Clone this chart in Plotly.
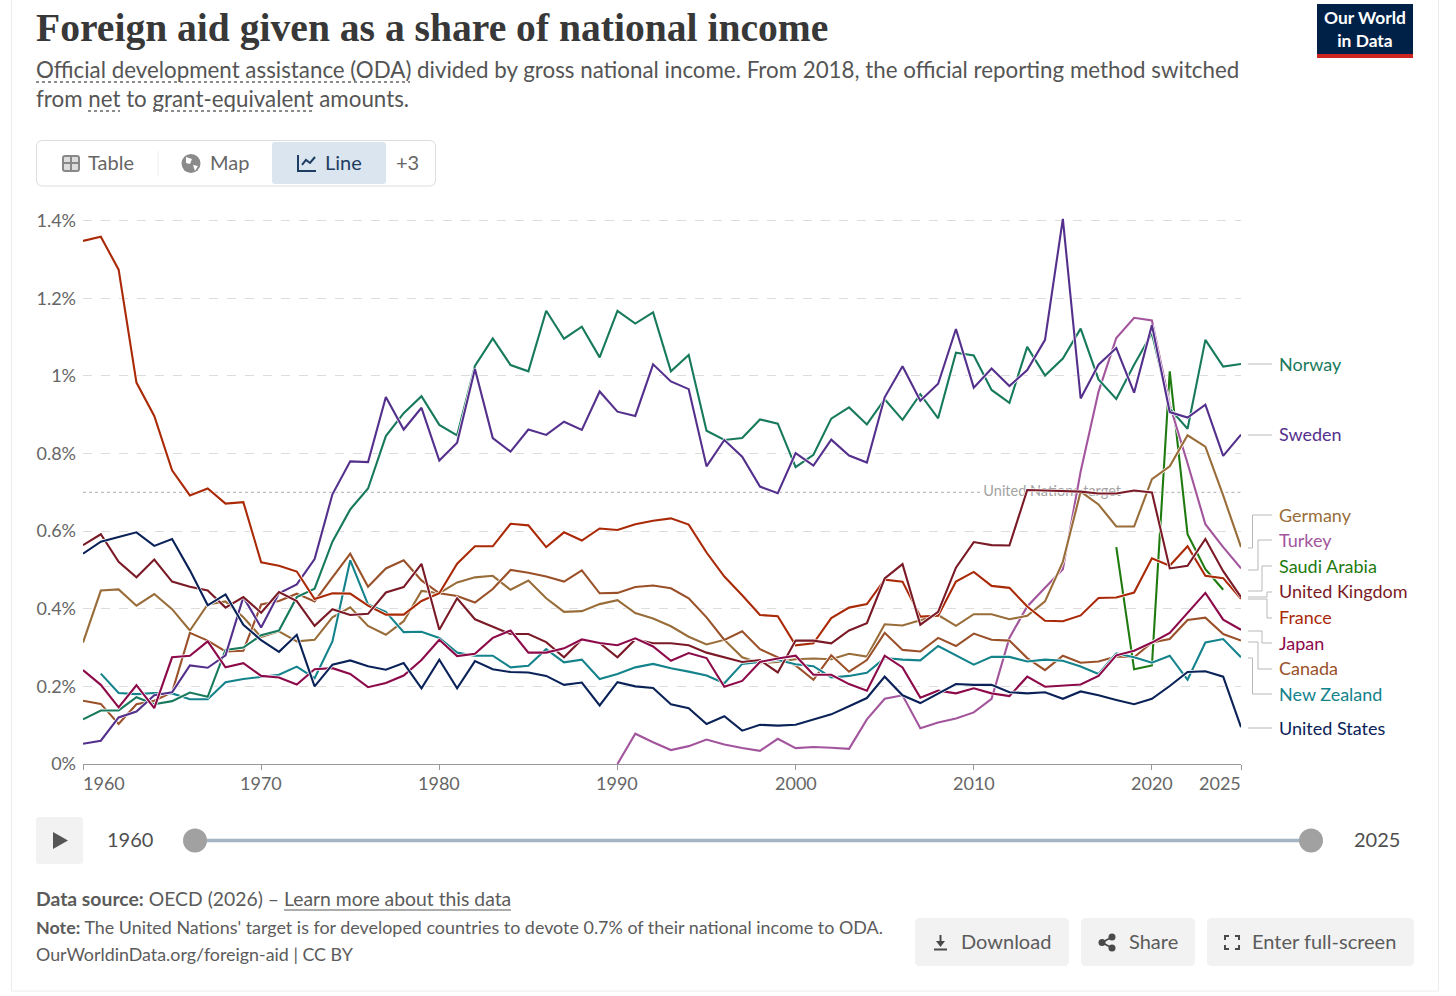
import plotly.graph_objects as go

W = 1456
H = 996

years = list(range(1960, 2026))

france = [1.348, 1.359, 1.274, .983, .897, .757, .692, .71, .671, .675,
          .52, .511, .496, .425, .44, .439, .408, .385, .385, .42,
          .44, .516, .561, .561, .619, .615, .559, .597, .576, .607,
          .603, .618, .627, .633, .617, .545, .483, .435, .384, .381,
          .306, .311, .376, .403, .412, .475, .47, .38, .382, .47,
          .495, .459, .454, .406, .369, .368, .383, .428, .429, .442,
          .53, .511, .561, .485, .479, .426]
norway = [.115, .138, .138, .172, .154, .162, .184, .173, .294, .30,
          .332, .344, .43, .452, .573, .656, .71, .845, .904, .948,
          .874, .847, 1.026, 1.097, 1.028, 1.012, 1.168, 1.096, 1.127, 1.048,
          1.168, 1.135, 1.164, 1.012, 1.054, .859, .835, .84, .888, .877,
          .765, .797, .89, .919, .875, .94, .887, .953, .891, 1.06,
          1.053, .964, .931, 1.075, 1.001, 1.045, 1.122, .991, .941, 1.029,
          1.11, .916, .864, 1.093, 1.024, 1.031]
sweden = [.052, .06, .12, .135, .177, .185, .254, .248, .28, .43,
          .352, .44, .463, .528, .695, .78, .778, .946, .862, .918,
          .782, .828, 1.018, .84, .805, .862, .848, .882, .861, .96,
          .908, .897, 1.03, .986, .966, .767, .835, .792, .715, .698,
          .801, .769, .836, .795, .777, .945, 1.025, .936, .98, 1.121,
          .97, 1.019, .974, 1.015, 1.093, 1.405, .942, 1.029, 1.072, .957,
          1.131, .907, .893, .926, .794, .849]
germany = [.313, .447, .45, .408, .438, .399, .344, .411, .419, .378,
           .327, .342, .316, .32, .378, .404, .356, .333, .368, .446,
           .44, .468, .481, .485, .449, .473, .427, .392, .394, .412,
           .422, .389, .375, .355, .328, .308, .32, .275, .26, .263,
           .27, .272, .27, .284, .277, .36, .357, .37, .384, .356,
           .386, .386, .373, .382, .419, .521, .702, .669, .612, .612,
           .734, .767, .847, .818, .692, .559]
canada = [.163, .155, .103, .154, .163, .185, .338, .318, .29, .292,
          .411, .42, .439, .419, .481, .542, .457, .504, .525, .473,
          .44, .433, .416, .451, .5, .493, .483, .47, .499, .44,
          .441, .456, .46, .453, .427, .378, .32, .342, .296, .276,
          .254, .217, .28, .238, .268, .338, .294, .29, .325, .304,
          .336, .32, .318, .273, .242, .279, .261, .264, .277, .275,
          .313, .322, .371, .377, .335, .318]
turkey = [None] * 30 + [0, .078, .056, .036, .046, .063, .05, .041, .034, .065,
                        .041, .044, .042, .039, .115, .168, .177, .092, .107, .117,
                        .133, .168, .325, .406, .454, .502, .754, .959, 1.098, 1.15,
                        1.143, .926, .775, .618, .559, .504]
saudi = [None] * 58 + [.559, .244, .254, 1.012, .592, .502, .449, None]
uk = [.564, .592, .521, .481, .527, .47, .457, .447, .403, .43,
      .39, .443, .42, .356, .399, .384, .387, .442, .456, .516,
      .346, .427, .373, .354, .335, .335, .314, .275, .321, .312,
      .275, .321, .311, .311, .306, .287, .275, .263, .268, .236,
      .318, .318, .311, .344, .363, .478, .515, .359, .392, .506,
      .572, .564, .563, .706, .705, .704, .702, .697, .697, .705,
      .7, .504, .511, .58, .497, .43]
japan = [.242, .204, .146, .203, .144, .275, .279, .316, .249, .26,
         .227, .223, .205, .244, .247, .232, .198, .209, .228, .268,
         .32, .278, .284, .325, .344, .287, .287, .298, .321, .312,
         .306, .324, .303, .266, .286, .273, .199, .214, .263, .272,
         .279, .23, .23, .206, .189, .279, .249, .171, .189, .182,
         .195, .182, .175, .225, .199, .202, .205, .227, .28, .292,
         .313, .338, .389, .441, .372, .346]
new_zealand = [None, .233, .183, .18, .183, .182, .167, .167, .211, .219,
               .225, .23, .251, .221, .316, .525, .411, .392, .34, .341,
               .325, .287, .279, .279, .249, .253, .296, .262, .269, .219,
               .232, .249, .258, .247, .238, .228, .208, .258, .263, .268,
               .257, .252, .223, .227, .235, .273, .269, .267, .304, .28,
               .256, .276, .276, .264, .269, .266, .251, .232, .285, .275,
               .261, .279, .217, .313, .322, .275]
united_states = [.542, .573, .585, .597, .562, .58, .499, .409, .437, .359,
                 .319, .289, .333, .2, .256, .267, .252, .243, .26, .195,
                 .269, .195, .265, .244, .237, .236, .227, .204, .21, .151,
                 .211, .2, .196, .154, .144, .103, .123, .086, .101, .099,
                 .101, .114, .128, .149, .17, .225, .177, .157, .182, .206,
                 .204, .204, .185, .182, .185, .168, .187, .177, .165, .154,
                 .168, .201, .237, .239, .225, .095]

# draw order: later ones sit on top
series = [
    ("Saudi Arabia", saudi, "#1f7a0f"),
    ("Turkey", turkey, "#a2559c"),
    ("Germany", germany, "#996d39"),
    ("Canada", canada, "#9a5129"),
    ("New Zealand", new_zealand, "#14838c"),
    ("Norway", norway, "#187a5c"),
    ("Sweden", sweden, "#54308c"),
    ("France", france, "#aa2a08"),
    ("United Kingdom", uk, "#7a1a26"),
    ("Japan", japan, "#8c0a4a"),
    ("United States", united_states, "#0a2258"),
]

yticks = [0, .2, .4, .6, .8, 1, 1.2, 1.4]
yticklabels = ["0%", "0.2%", "0.4%", "0.6%", "0.8%", "1%", "1.2%", "1.4%"]
xticks = [1960, 1970, 1980, 1990, 2000, 2010, 2020, 2025]

# label, colour, label y, then the connector: start y, end y, elbow x
end_labels = [
    ("Norway", "#187a5c", 365, 364, 364, None),
    ("Sweden", "#54308c", 435, 435, 435, None),
    ("Germany", "#996d39", 516, 548, 515, 1252.5),
    ("Turkey", "#a2559c", 541, 570, 540, 1258),
    ("Saudi Arabia", "#1f7a0f", 567, 591, 566, 1262),
    ("United Kingdom", "#7a1a26", 592, 597, 592, 1267),
    ("France", "#aa2a08", 618, 599, 618, 1267),
    ("Japan", "#8c0a4a", 644, 631, 643, 1262),
    ("Canada", "#9a5129", 669, 642, 669, 1258),
    ("New Zealand", "#14838c", 695, 658, 694, 1252.5),
    ("United States", "#0a2258", 729, 728, 728, None),
]


def px(x):
    return x / W


def py(y):
    return 1 - y / H


def pt(x, y):
    return f"{px(x):.5f},{py(y):.5f}"


def line(x0, y0, x1, y1, color="#bbbbbb", width=1, dash="solid"):
    return dict(type="line", xref="paper", yref="paper", x0=px(x0), y0=py(y0), x1=px(x1), y1=py(y1),
                line=dict(color=color, width=width, dash=dash))


def path(d, fill="rgba(0,0,0,0)", color="rgba(0,0,0,0)", width=0):
    return dict(type="path", xref="paper", yref="paper", path=d, fillcolor=fill,
                line=dict(color=color, width=width))


def rrect(x0, y0, x1, y1, r, fill, color="rgba(0,0,0,0)", width=0):
    d = (f"M{pt(x0 + r, y0)} L{pt(x1 - r, y0)} Q{pt(x1, y0)} {pt(x1, y0 + r)} "
         f"L{pt(x1, y1 - r)} Q{pt(x1, y1)} {pt(x1 - r, y1)} L{pt(x0 + r, y1)} "
         f"Q{pt(x0, y1)} {pt(x0, y1 - r)} L{pt(x0, y0 + r)} Q{pt(x0, y0)} {pt(x0 + r, y0)} Z")
    return path(d, fill, color, width)


def circle(cx, cy, r, fill, color="rgba(0,0,0,0)", width=0):
    return dict(type="circle", xref="paper", yref="paper", x0=px(cx - r), x1=px(cx + r),
                y0=py(cy + r), y1=py(cy - r), fillcolor=fill, line=dict(color=color, width=width))


def text(x, y, s, size=18, color="#5b5b5b", anchor="left", font="Lato"):
    # Lato sits a little low in its box
    if font == "Lato":
        y -= 1.3
    return dict(xref="paper", yref="paper", x=px(x), y=py(y), text=s, showarrow=False, xanchor=anchor,
                yanchor="middle", align="center" if anchor == "center" else "left",
                font=dict(family=font, size=size, color=color), borderpad=0, borderwidth=0)


fig = go.Figure()

# UN target label goes first so the lines run over it
fig.add_trace(go.Scatter(x=[2014.4], y=[.7], mode="text", text=["United Nations target"],
                         textfont=dict(family="Lato", size=14.5, color="#a3a3a3"),
                         hoverinfo="skip", showlegend=False))

for name, values, color in series:
    fig.add_trace(go.Scatter(x=years, y=values, mode="lines", line=dict(color="white", width=3.4),
                             hoverinfo="skip", showlegend=False))
    fig.add_trace(go.Scatter(x=years, y=values, mode="lines", name=name, line=dict(color=color, width=2.1),
                             showlegend=False))

shapes = []
annotations = []

# target line, broken around its label
shapes.append(dict(type="line", xref="x", yref="y", x0=1960, x1=2010.4, y0=.7, y1=.7, layer="below",
                   line=dict(color="#bdbdbd", width=1.2, dash="dot")))
shapes.append(dict(type="line", xref="x", yref="y", x0=2018.4, x1=2025, y0=.7, y1=.7, layer="below",
                   line=dict(color="#bdbdbd", width=1.2, dash="dot")))

# card outline
shapes.append(line(11.5, 0, 11.5, 991, "#ececec"))
shapes.append(line(1438.5, 0, 1438.5, 991, "#ececec"))
shapes.append(line(11.5, 991, 1438.5, 991, "#ececec"))

# header
annotations.append(text(36, 28, "<b>Foreign aid given as a share of national income</b>", 39.6, "#383838",
                        font="Liberation Serif"))
annotations.append(text(36, 71, "Official development assistance (ODA) divided by gross national income. "
                                "From 2018, the official reporting method switched", 22.33, "#555555"))
annotations.append(text(36, 100, "from net to grant-equivalent amounts.", 22.33, "#555555"))
shapes.append(line(36, 82, 410, 82, "#666666", 1.5, "dot"))
shapes.append(line(88, 111, 120, 111, "#666666", 1.5, "dot"))
shapes.append(line(153, 111, 313, 111, "#666666", 1.5, "dot"))

# logo
shapes.append(dict(type="rect", xref="paper", yref="paper", x0=px(1317), x1=px(1413), y0=py(58), y1=py(4),
                   fillcolor="#002147", line_width=0))
shapes.append(dict(type="rect", xref="paper", yref="paper", x0=px(1317), x1=px(1413), y0=py(58), y1=py(54),
                   fillcolor="#ce261e", line_width=0))
annotations.append(text(1365, 30.5, "<b>Our World<br>in Data</b>", 17.4, "white", "center"))

# tab bar
shapes.append(rrect(36.5, 140.5, 435.5, 186, 6, "white", "#dddddd", 1))
shapes.append(rrect(272, 142, 386, 184, 3, "#dbe5f0"))
shapes.append(line(158, 151, 158, 176, "#eeeeee"))
annotations.append(text(88, 163.5, "Table", 20, "#666666"))
annotations.append(text(210, 163.5, "Map", 20, "#666666"))
annotations.append(text(325, 163.5, "Line", 20, "#1d3d63"))
annotations.append(text(396, 163.5, "+3", 20, "#666666"))
# tab icons
shapes.append(rrect(63, 156, 79, 171, 2, "#dddddd", "#888888", 2))
shapes.append(line(63, 163, 79, 163, "#888888", 2))
shapes.append(line(71, 156, 71, 171, "#888888", 2))
shapes.append(circle(191, 163.5, 9.5, "#8a8a8a"))
shapes.append(path(f"M{pt(186, 157)} L{pt(192, 159)} L{pt(190, 164)} L{pt(186, 163)} Z", "white"))
shapes.append(path(f"M{pt(193, 165)} L{pt(198, 166)} L{pt(195, 171)} Z", "white"))
shapes.append(path(f"M{pt(298, 155)} L{pt(298, 171)} L{pt(316, 171)}", color="#1d3d63", width=2))
shapes.append(path(f"M{pt(302, 165)} L{pt(306, 160)} L{pt(310, 163)} L{pt(315, 157)}", color="#1d3d63", width=2))

# axis labels on the x axis, the outer two are pulled inside
for yr in xticks:
    anchor = "left" if yr == 1960 else "right" if yr == 2025 else "center"
    shift = -2 if yr == 1960 else 2 if yr == 2025 else 0
    annotations.append(dict(xref="x", yref="paper", x=yr, y=py(783), text=str(yr), showarrow=False, xshift=shift,
                            xanchor=anchor, yanchor="middle", font=dict(family="Lato", size=18, color="#666666")))

# end labels and connectors
for name, color, y_label, y_start, y_end, elbow in end_labels:
    annotations.append(text(1279, y_label, name, 18, color))
    if elbow is None:
        shapes.append(line(1248, y_start, 1272, y_end, "#b8b8b8"))
    else:
        shapes.append(path(f"M{pt(1248, y_start)} L{pt(elbow, y_start)} L{pt(elbow, y_end)} L{pt(1272, y_end)}",
                           color="#b8b8b8", width=1))

# timeline
shapes.append(rrect(36, 817, 83, 864, 3, "#f2f2f2"))
shapes.append(path(f"M{pt(53, 832)} L{pt(68, 840.5)} L{pt(53, 849)} Z", "#555555"))
annotations.append(text(130, 840, "1960", 20, "#4f4f4f", "center"))
annotations.append(text(1377, 840, "2025", 20, "#4f4f4f", "center"))
shapes.append(line(205, 840.5, 1300, 840.5, "#a4b5c3", 3.5))
shapes.append(circle(195, 840.5, 12, "#a1a1a1"))
shapes.append(circle(1311, 840.5, 12, "#a1a1a1"))

# footer
annotations.append(text(36, 900, "<b>Data source:</b> OECD (2026) – Learn more about this data", 19.35, "#5b5b5b"))
shapes.append(line(284, 910, 511, 910, "#5b5b5b", 1))
annotations.append(text(36, 928, "<b>Note:</b> The United Nations' target is for developed countries to devote "
                                 "0.7% of their national income to ODA.", 17.9, "#5b5b5b"))
annotations.append(text(36, 955, "OurWorldinData.org/foreign-aid | CC BY", 17.85, "#5b5b5b"))

# buttons
shapes.append(rrect(915, 918, 1069, 966, 5, "#f2f2f2"))
shapes.append(rrect(1081, 918, 1195, 966, 5, "#f2f2f2"))
shapes.append(rrect(1207, 918, 1414, 966, 5, "#f2f2f2"))
annotations.append(text(961, 942.5, "Download", 20, "#5b5b5b"))
annotations.append(text(1129, 942.5, "Share", 20, "#5b5b5b"))
annotations.append(text(1252, 942.5, "Enter full-screen", 20, "#5b5b5b"))
shapes.append(line(940.5, 935, 940.5, 945, "#4a4a4a", 2))
shapes.append(path(f"M{pt(936, 941)} L{pt(940.5, 947)} L{pt(945, 941)} Z", "#4a4a4a"))
shapes.append(line(934, 949.5, 947, 949.5, "#4a4a4a", 2))
shapes.append(line(1102, 942.5, 1112, 937, "#4a4a4a", 1.8))
shapes.append(line(1102, 942.5, 1112, 948, "#4a4a4a", 1.8))
shapes.append(circle(1102, 942.5, 3.5, "#4a4a4a"))
shapes.append(circle(1112, 937, 3.5, "#4a4a4a"))
shapes.append(circle(1112, 948, 3.5, "#4a4a4a"))
for d in [f"M{pt(1225, 940)} L{pt(1225, 936)} L{pt(1229, 936)}",
          f"M{pt(1235, 936)} L{pt(1239, 936)} L{pt(1239, 940)}",
          f"M{pt(1225, 945)} L{pt(1225, 949)} L{pt(1229, 949)}",
          f"M{pt(1235, 949)} L{pt(1239, 949)} L{pt(1239, 945)}"]:
    shapes.append(path(d, color="#4a4a4a", width=2))

fig.update_layout(
    width=W,
    height=H,
    autosize=False,
    margin=dict(l=0, r=0, t=0, b=0, pad=0, autoexpand=False),
    paper_bgcolor="white",
    plot_bgcolor="white",
    showlegend=False,
    shapes=shapes,
    annotations=annotations,
    xaxis=dict(domain=[px(83), px(1241)], range=[1960, 2025], tickvals=xticks, showticklabels=False,
               ticks="outside", ticklen=5, tickcolor="#999999", tickwidth=1, automargin=False,
               showgrid=False, zeroline=False, showline=True, linecolor="#999999", linewidth=1),
    yaxis=dict(domain=[py(764), py(213)], range=[0, 1.42], tickvals=yticks, ticktext=yticklabels,
               tickfont=dict(family="Lato", size=18, color="#666666"), ticklabelstandoff=6, automargin=False,
               showgrid=True, gridcolor="#dddddd", griddash="dash", gridwidth=1, zeroline=False, showline=False),
)

fig.write_html("out.html", config=dict(displayModeBar=False),
               post_script="document.body.style.margin='0';document.body.style.overflow='hidden';")
